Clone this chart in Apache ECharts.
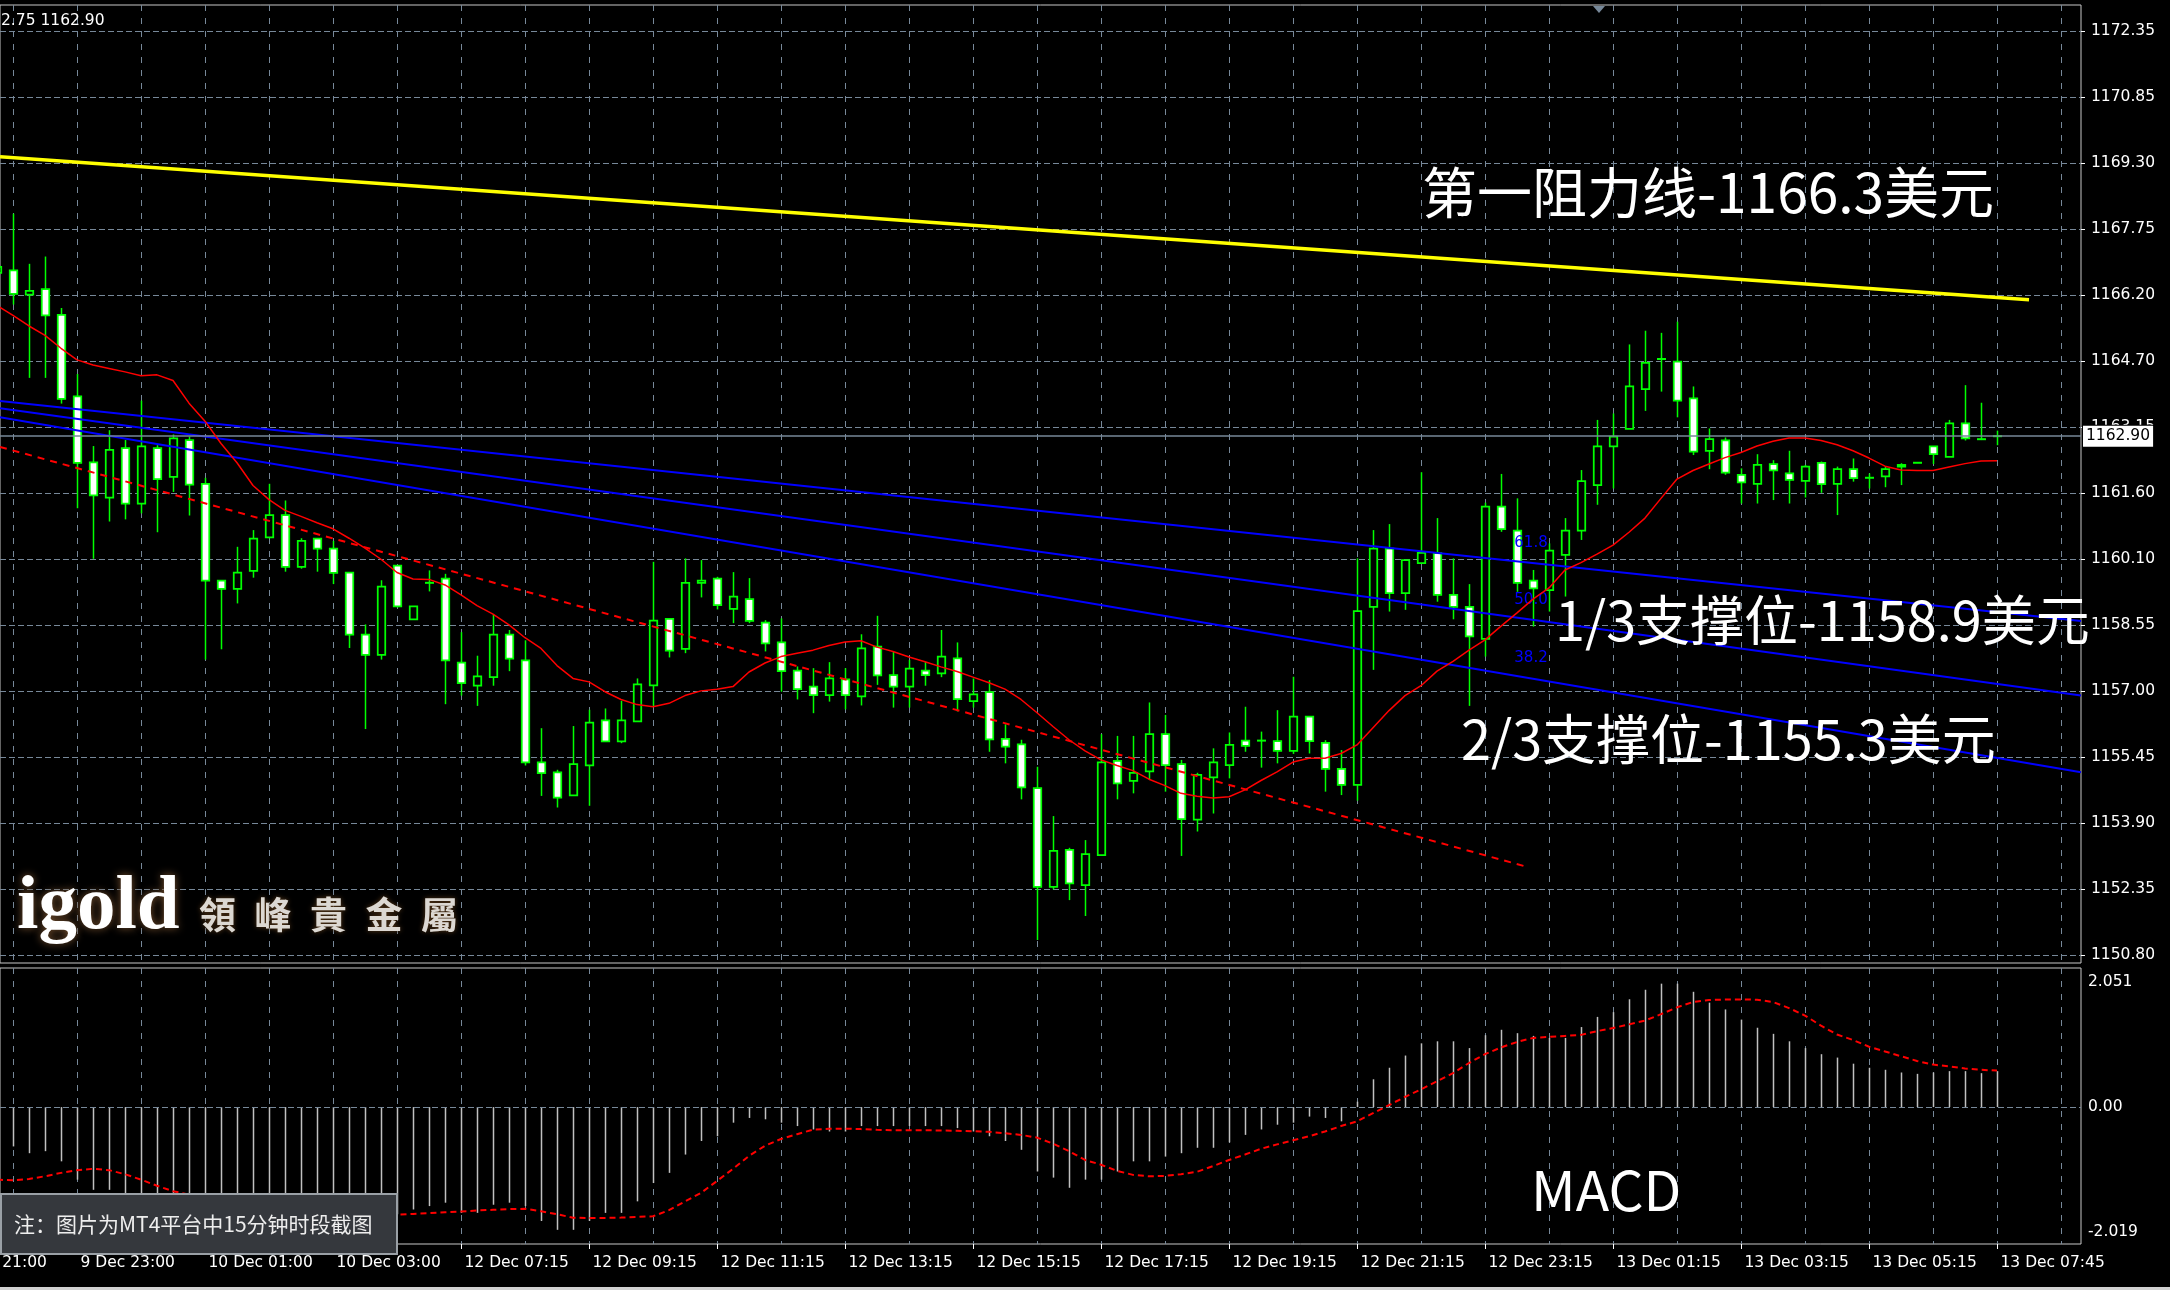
<!DOCTYPE html>
<html><head><meta charset="utf-8">
<script src="https://cdn.jsdelivr.net/npm/echarts@6/dist/echarts.min.js"></script>
<style>html,body{margin:0;padding:0;background:#000;}#c{width:2170px;height:1290px;}</style>
</head><body><div id="c"></div>
<script>
// ---------- data (15-minute bars, x axis value = bar index) ----------
const timeLabels = ['9 Dec 21:00','9 Dec 23:00','10 Dec 01:00','10 Dec 03:00','12 Dec 07:15','12 Dec 09:15','12 Dec 11:15','12 Dec 13:15','12 Dec 15:15','12 Dec 17:15','12 Dec 19:15','12 Dec 21:15','12 Dec 23:15','13 Dec 01:15','13 Dec 03:15','13 Dec 05:15','13 Dec 07:45'];
const timeLabelFirstBar = -3;   // bar index of the first (cut-off) time label, then every 8 bars
const priceLabels = ['1150.80','1152.35','1153.90','1155.45','1157.00','1158.55','1160.10','1161.60','1163.15','1164.70','1166.20','1167.75','1169.30','1170.85','1172.35'];

const opens = [1166.71,1166.77,1166.20,1166.33,1165.73,1163.83,1162.29,1161.47,1162.62,1161.33,1162.62,1161.95,1162.81,1161.79,1159.53,1159.34,1159.76,1160.54,1161.06,1159.85,1160.51,1160.28,1159.72,1158.27,1157.80,1159.88,1158.63,1159.48,1159.58,1157.62,1157.08,1157.28,1158.27,1157.67,1155.29,1155.06,1154.52,1155.22,1156.27,1155.78,1156.25,1157.09,1158.64,1157.94,1159.48,1159.58,1158.87,1159.10,1158.55,1158.09,1157.43,1157.06,1156.86,1157.23,1156.83,1157.99,1157.33,1157.06,1157.43,1157.37,1157.72,1156.72,1156.93,1155.84,1155.71,1154.69,1152.39,1153.25,1152.43,1153.13,1155.33,1154.86,1155.08,1155.95,1155.25,1153.96,1154.94,1155.23,1155.80,1155.79,1155.79,1155.56,1156.36,1155.75,1155.14,1154.77,1158.92,1160.28,1159.24,1159.94,1160.17,1159.20,1158.92,1158.17,1161.26,1160.70,1159.53,1159.31,1160.13,1160.70,1161.76,1162.66,1163.07,1164.00,1164.68,1164.64,1163.78,1162.56,1162.80,1162.00,1161.79,1162.25,1162.03,1161.86,1162.28,1161.79,1162.13,1161.93,1161.96,1162.19,1162.28,1162.66,1162.42,1163.20,1162.83,1162.87];
const closes = [1166.85,1166.22,1166.29,1165.72,1163.77,1162.28,1161.52,1162.58,1161.33,1162.66,1161.90,1162.85,1161.77,1159.53,1159.34,1159.72,1160.51,1161.06,1159.85,1160.46,1160.28,1159.71,1158.27,1157.80,1159.39,1158.93,1158.93,1159.48,1157.67,1157.14,1157.30,1158.27,1157.71,1155.29,1155.04,1154.47,1155.25,1156.22,1155.78,1156.27,1157.11,1158.60,1157.90,1159.48,1159.53,1158.96,1159.16,1158.59,1158.07,1157.42,1157.00,1156.86,1157.25,1156.86,1157.95,1157.32,1157.06,1157.48,1157.33,1157.76,1156.77,1156.88,1155.83,1155.66,1154.71,1152.39,1153.23,1152.47,1153.15,1155.29,1154.80,1155.05,1155.95,1155.23,1153.97,1155.00,1155.29,1155.70,1155.68,1155.80,1155.56,1156.36,1155.79,1155.14,1154.77,1158.82,1160.28,1159.24,1160.01,1160.18,1159.20,1158.92,1158.23,1161.26,1160.73,1159.48,1159.35,1160.23,1160.70,1161.85,1162.66,1162.89,1164.06,1164.61,1164.70,1163.73,1162.54,1162.83,1162.05,1161.82,1162.23,1162.10,1161.88,1162.19,1161.78,1162.13,1161.92,1161.93,1162.13,1162.23,1162.28,1162.48,1163.20,1162.85,1162.81,1162.90];
const lows = [1166.40,1165.97,1164.26,1164.26,1163.66,1161.22,1160.04,1160.91,1160.96,1161.10,1160.66,1161.60,1161.05,1157.69,1157.93,1159.00,1159.60,1160.52,1159.74,1159.81,1159.74,1159.45,1157.96,1156.07,1157.69,1158.91,1158.63,1159.28,1156.65,1156.85,1156.61,1157.08,1157.42,1155.22,1154.51,1154.24,1154.51,1154.28,1155.78,1155.74,1156.24,1156.59,1157.74,1157.84,1159.14,1158.86,1158.54,1158.54,1157.88,1156.94,1156.76,1156.44,1156.71,1156.53,1156.62,1157.10,1156.57,1156.57,1157.08,1157.28,1156.48,1156.57,1155.54,1155.27,1154.43,1151.15,1152.33,1152.08,1151.71,1153.11,1154.43,1154.57,1154.88,1154.61,1153.11,1153.68,1154.10,1154.92,1155.54,1155.17,1155.27,1155.49,1155.50,1154.61,1154.53,1154.40,1157.45,1158.81,1158.85,1159.93,1159.04,1158.63,1156.61,1157.76,1160.67,1159.27,1158.46,1158.81,1159.16,1160.48,1161.30,1161.68,1163.07,1163.49,1163.94,1163.34,1162.46,1162.13,1162.00,1161.33,1161.33,1161.41,1161.33,1161.47,1161.58,1161.06,1161.84,1161.68,1161.71,1161.76,1162.28,1162.25,1162.42,1162.80,1162.81,1162.69];
const highs = [1167.20,1168.09,1166.92,1167.09,1165.89,1164.35,1162.67,1163.04,1162.81,1163.73,1162.69,1162.94,1162.89,1161.93,1159.53,1160.32,1160.71,1161.79,1161.40,1160.52,1160.51,1160.46,1159.72,1158.51,1159.54,1159.88,1158.93,1159.77,1159.69,1158.33,1157.78,1158.75,1158.38,1158.14,1156.09,1155.12,1156.14,1156.52,1156.55,1156.73,1157.25,1159.97,1158.64,1160.05,1160.01,1159.62,1159.73,1159.59,1158.61,1158.65,1157.53,1157.49,1157.63,1157.49,1158.28,1158.71,1157.87,1157.68,1157.64,1158.38,1158.09,1157.25,1157.21,1156.18,1155.82,1155.19,1154.04,1153.30,1153.48,1155.95,1155.91,1155.91,1156.69,1156.40,1155.35,1155.05,1155.62,1155.99,1156.59,1156.01,1156.51,1157.29,1156.36,1155.81,1155.58,1160.05,1160.71,1160.85,1160.01,1162.06,1160.99,1160.05,1159.45,1161.35,1162.02,1161.45,1159.78,1160.40,1160.99,1162.11,1163.28,1163.43,1165.04,1165.36,1165.31,1165.57,1164.06,1163.08,1162.87,1162.15,1162.48,1162.34,1162.56,1162.23,1162.31,1162.19,1162.38,1162.03,1162.19,1162.27,1162.28,1162.67,1163.28,1164.09,1163.68,1163.03];

const maValues = [1165.95,1165.72,1165.47,1165.25,1164.95,1164.68,1164.56,1164.48,1164.40,1164.31,1164.33,1164.20,1163.67,1163.25,1162.73,1162.28,1161.75,1161.42,1161.17,1161.03,1160.88,1160.74,1160.52,1160.29,1160.03,1159.72,1159.57,1159.56,1159.43,1159.20,1158.95,1158.75,1158.50,1158.20,1157.95,1157.55,1157.25,1157.17,1156.94,1156.76,1156.64,1156.59,1156.67,1156.85,1156.96,1157.00,1157.06,1157.40,1157.61,1157.76,1157.84,1157.91,1158.02,1158.10,1158.13,1157.98,1157.88,1157.75,1157.64,1157.52,1157.41,1157.28,1157.15,1157.00,1156.76,1156.45,1156.13,1155.82,1155.56,1155.35,1155.22,1155.10,1154.90,1154.75,1154.57,1154.50,1154.46,1154.49,1154.65,1154.87,1155.07,1155.30,1155.39,1155.39,1155.50,1155.70,1156.10,1156.50,1156.85,1157.08,1157.42,1157.65,1157.91,1158.15,1158.47,1158.78,1159.10,1159.36,1159.78,1159.95,1160.15,1160.36,1160.66,1160.99,1161.45,1161.90,1162.10,1162.25,1162.40,1162.52,1162.67,1162.78,1162.86,1162.86,1162.80,1162.70,1162.56,1162.39,1162.20,1162.11,1162.10,1162.10,1162.18,1162.26,1162.32,1162.33];

const macdMain = [-0.55,-0.58,-0.68,-0.65,-0.80,-1.07,-1.22,-1.22,-1.30,-1.38,-1.45,-1.55,-1.60,-1.75,-1.85,-1.85,-1.80,-1.70,-1.65,-1.60,-1.55,-1.52,-1.58,-1.65,-1.66,-1.58,-1.51,-1.46,-1.41,-1.56,-1.56,-1.44,-1.41,-1.46,-1.68,-1.81,-1.81,-1.68,-1.56,-1.56,-1.39,-1.12,-0.97,-0.70,-0.50,-0.43,-0.23,-0.16,-0.18,-0.23,-0.28,-0.33,-0.36,-0.36,-0.28,-0.28,-0.28,-0.28,-0.28,-0.28,-0.31,-0.36,-0.43,-0.50,-0.63,-0.95,-1.04,-1.19,-1.07,-1.07,-0.95,-0.80,-0.80,-0.73,-0.68,-0.60,-0.60,-0.52,-0.41,-0.33,-0.26,-0.23,-0.14,-0.16,-0.21,0.08,0.41,0.58,0.76,0.94,0.97,0.97,0.87,1.06,1.14,1.09,1.05,1.02,1.02,1.18,1.33,1.40,1.59,1.73,1.82,1.82,1.70,1.54,1.44,1.29,1.17,1.08,0.97,0.87,0.78,0.73,0.64,0.58,0.55,0.51,0.49,0.51,0.53,0.53,0.50,0.53];
const macdSignal = [-1.07,-1.08,-1.06,-1.02,-0.97,-0.93,-0.91,-0.93,-0.99,-1.07,-1.16,-1.24,-1.29,-1.34,-1.40,-1.45,-1.49,-1.52,-1.54,-1.56,-1.57,-1.58,-1.585,-1.59,-1.59,-1.586,-1.575,-1.565,-1.55,-1.54,-1.525,-1.515,-1.505,-1.50,-1.535,-1.58,-1.632,-1.635,-1.635,-1.63,-1.62,-1.61,-1.52,-1.39,-1.266,-1.09,-0.91,-0.72,-0.57,-0.47,-0.40,-0.332,-0.32,-0.318,-0.325,-0.335,-0.342,-0.342,-0.342,-0.345,-0.35,-0.355,-0.365,-0.385,-0.41,-0.45,-0.54,-0.65,-0.78,-0.85,-0.94,-1.00,-1.02,-1.015,-0.99,-0.955,-0.87,-0.78,-0.70,-0.615,-0.55,-0.49,-0.43,-0.36,-0.28,-0.21,-0.09,0.03,0.15,0.26,0.38,0.50,0.65,0.78,0.88,0.96,1.02,1.035,1.05,1.065,1.12,1.165,1.22,1.275,1.37,1.47,1.55,1.58,1.586,1.586,1.584,1.55,1.46,1.35,1.20,1.07,0.99,0.89,0.82,0.75,0.68,0.627,0.60,0.57,0.55,0.538];
const macdMin = -2.019, macdMax = 2.051;

// drawn objects (trend lines / fan), as [bar index, price]
const resistanceLine = [[0.1875, 1169.42], [127, 1166.08]];
const downTrendLine = [[0.1875, 1162.65], [95.69, 1152.85]];
const fanLines = [
  {name: '61.8', pts: [[0.1875, 1163.72], [130.25, 1158.59]]},
  {name: '50.0', pts: [[0.1875, 1163.55], [130.25, 1156.85]]},
  {name: '38.2', pts: [[0.1875, 1163.34], [130.25, 1155.06]]}
];
const fanLabelAt = 95.875;

// ---------- build ----------
const X_MIN = 0.1875, X_MAX = 130.25;   // visible bar range (chart shifted, first bar cut)
const candleData = opens.map((o, i) => [i, o, closes[i], lows[i], highs[i]]);
const maData = maValues.map((v, i) => [i, v]);
const macdData = macdMain.map((v, i) => [i, v]);
const signalData = macdSignal.map((v, i) => [i, v]);
const gridBars = [];
for (let b = 1; b <= X_MAX; b += 4) gridBars.push([b]);
const labelData = timeLabels.map((t, k) => [timeLabelFirstBar + 8 * k, k]);
const yMin = +priceLabels[0], yMax = +priceLabels[priceLabels.length - 1];
const yInterval = (yMax - yMin) / (priceLabels.length - 1);
const lastClose = closes[closes.length - 1];

const GRID = '#778899', FG = '#ffffff', LIME = '#00ff00';
const AX_FONT = 'DejaVu Sans';
const CJK = '"Noto Sans CJK SC", "Noto Sans", sans-serif';

function renderCandle(params, api) {
  const x = api.value(0), o = api.value(1), c = api.value(2), l = api.value(3), h = api.value(4);
  const po = api.coord([x, o]), pc = api.coord([x, c]), pl = api.coord([x, l]), ph = api.coord([x, h]);
  const cx = Math.round(po[0]) + 0.5;
  const top = Math.min(po[1], pc[1]), bot = Math.max(po[1], pc[1]);
  const children = [{type: 'line', shape: {x1: cx, y1: ph[1], x2: cx, y2: pl[1]}, style: {stroke: LIME, lineWidth: 1.5}}];
  if (bot - top < 1.5) {
    children.push({type: 'line', shape: {x1: cx - 4.5, y1: top, x2: cx + 4.5, y2: top}, style: {stroke: LIME, lineWidth: 2}});
  } else {
    children.push({type: 'rect', shape: {x: cx - 3.75, y: top, width: 7.5, height: bot - top},
      style: {fill: c < o ? '#ffffff' : '#000000', stroke: LIME, lineWidth: 1.75}});
  }
  return {type: 'group', children};
}
function renderHist(params, api) {
  const x = api.value(0), v = api.value(1);
  const p0 = api.coord([x, 0]), p1 = api.coord([x, v]);
  const px = Math.round(p0[0]) + 0.5;
  return {type: 'line', shape: {x1: px, y1: p0[1], x2: px, y2: p1[1]}, style: {stroke: '#c0c0c0', lineWidth: 1.5}};
}
function renderVGrid(params, api) {
  const cs = params.coordSys;
  const x = Math.round(api.coord([api.value(0), 0])[0]) + 0.5;
  return {type: 'line', shape: {x1: x, y1: cs.y, x2: x, y2: cs.y + cs.height},
    style: {stroke: GRID, lineWidth: 1, lineDash: [6, 7]}};
}
function renderTimeLabel(params, api) {
  const cs = params.coordSys;
  const x = Math.round(api.coord([api.value(0), 0])[0]) + 0.5;
  const yb = cs.y + cs.height;
  return {type: 'group', children: [
    {type: 'line', shape: {x1: x, y1: yb, x2: x, y2: yb + 5}, style: {stroke: FG, lineWidth: 1}},
    {type: 'text', x: x + 3, y: yb + 11, style: {text: timeLabels[api.value(1)], fill: FG, font: '15.5px "DejaVu Sans"', align: 'left', verticalAlign: 'top'}}
  ]};
}

const fanSeries = fanLines.map(f => {
  const [a, b] = f.pts;
  const t = (fanLabelAt - a[0]) / (b[0] - a[0]);
  const yAt = a[1] + t * (b[1] - a[1]);
  return {
    type: 'line', name: f.name, xAxisIndex: 1, yAxisIndex: 1, data: f.pts, showSymbol: false, z: 4,
    lineStyle: {color: '#0000ff', width: 2}, silent: true,
    markPoint: {symbol: 'circle', symbolSize: 0, data: [{coord: [fanLabelAt, yAt]}],
      label: {show: true, formatter: f.name, color: '#0000ff', fontFamily: AX_FONT, fontSize: 15, offset: [0, -20]}}
  };
});

const xAxisBase = {type: 'value', min: X_MIN, max: X_MAX, show: false, splitLine: {show: false}};

const option = {
  backgroundColor: '#000000',
  animation: false,
  grid: [
    {left: 0, right: 89, top: 5, height: 958, show: true, borderColor: '#c8c8c8', borderWidth: 1, backgroundColor: 'transparent'},
    {left: 0, right: 89, top: 31, height: 924, show: false},
    {left: 0, right: 89, top: 968, height: 276, show: true, borderColor: '#c8c8c8', borderWidth: 1, backgroundColor: 'transparent'}
  ],
  xAxis: [
    Object.assign({gridIndex: 0}, xAxisBase),
    Object.assign({gridIndex: 1}, xAxisBase),
    Object.assign({gridIndex: 2}, xAxisBase)
  ],
  yAxis: [
    {gridIndex: 0, type: 'value', min: 0, max: 1, show: false, splitLine: {show: false}},
    {gridIndex: 1, type: 'value', position: 'right', min: yMin, max: yMax, interval: yInterval,
      axisLine: {show: false},
      axisTick: {show: true, inside: false, length: 4, lineStyle: {color: FG}},
      splitLine: {show: true, lineStyle: {color: GRID, type: [6, 3], width: 1}},
      axisLabel: {show: true, showMinLabel: true, showMaxLabel: true, color: FG, fontFamily: AX_FONT, fontSize: 15.5, margin: 10,
        formatter: v => priceLabels[Math.round((v - yMin) / yInterval)] || ''}},
    {gridIndex: 2, type: 'value', position: 'right', min: macdMin, max: macdMax, interval: -macdMin,
      axisLine: {show: false}, axisTick: {show: false}, splitLine: {show: false},
      axisLabel: {show: true, showMinLabel: true, showMaxLabel: true, color: FG, fontFamily: AX_FONT, fontSize: 15.5, margin: 7,
        formatter: v => {
          if (Math.abs(v - macdMax) < 1e-6) return '{t|' + macdMax.toFixed(3) + '}';
          if (Math.abs(v - macdMin) < 1e-6) return '{b|' + macdMin.toFixed(3) + '}';
          if (Math.abs(v) < 1e-6) return '0.00';
          return '';
        },
        rich: {
          t: {color: FG, fontFamily: AX_FONT, fontSize: 15.5, padding: [28, 0, 0, 0]},
          b: {color: FG, fontFamily: AX_FONT, fontSize: 15.5, padding: [0, 0, 24, 0]}
        }}}
  ],
  series: [
    {type: 'custom', name: 'vgrid-main', xAxisIndex: 0, yAxisIndex: 0, data: gridBars, renderItem: renderVGrid, z: 1, silent: true, encode: {x: 0}},
    {type: 'custom', name: 'vgrid-macd', xAxisIndex: 2, yAxisIndex: 2, data: gridBars, renderItem: renderVGrid, z: 1, silent: true, encode: {x: 0}},
    {type: 'custom', name: 'time-labels', xAxisIndex: 2, yAxisIndex: 2, data: labelData, renderItem: renderTimeLabel, z: 2, silent: true, encode: {x: 0}},
    {type: 'custom', name: 'GOLD M15', xAxisIndex: 1, yAxisIndex: 1, data: candleData, renderItem: renderCandle, z: 3,
      encode: {x: 0, y: [1, 2, 3, 4]},
      markLine: {silent: true, symbol: 'none', animation: false,
        lineStyle: {color: GRID, type: 'solid', width: 1.5},
        data: [{yAxis: lastClose}],
        label: {show: true, position: 'end', distance: 2, formatter: p => (+p.value).toFixed(2),
          backgroundColor: '#ffffff', color: '#000000', fontFamily: AX_FONT, fontSize: 15.5, padding: [4, 3, 1, 3],
          borderColor: '#000000', borderWidth: 1}}},
    {type: 'line', name: 'MA', xAxisIndex: 1, yAxisIndex: 1, data: maData, showSymbol: false, z: 5,
      lineStyle: {color: '#ff0000', width: 1.5}, silent: true},
    {type: 'line', name: 'trend', xAxisIndex: 1, yAxisIndex: 1, data: downTrendLine, showSymbol: false, z: 5,
      lineStyle: {color: '#ff0000', width: 2, type: [7, 6]}, silent: true},
    {type: 'line', name: 'resistance', xAxisIndex: 1, yAxisIndex: 1, data: resistanceLine, showSymbol: false, z: 5,
      lineStyle: {color: '#ffff00', width: 3.5}, silent: true},
    ...fanSeries,
    {type: 'custom', name: 'MACD', xAxisIndex: 2, yAxisIndex: 2, data: macdData, renderItem: renderHist, z: 3,
      encode: {x: 0, y: 1},
      markLine: {silent: true, symbol: 'none', animation: false, label: {show: false},
        lineStyle: {color: GRID, type: [6, 3], width: 1}, data: [{yAxis: 0}]}},
    {type: 'line', name: 'Signal', xAxisIndex: 2, yAxisIndex: 2, data: signalData, showSymbol: false, z: 4,
      lineStyle: {color: '#ff0000', width: 2, type: [6, 4]}, silent: true}
  ],
  graphic: [
    {type: 'text', x: 1, y: 21, z: 10, style: {text: '2.75 1162.90', fill: FG, font: '15.5px "DejaVu Sans"', align: 'left', verticalAlign: 'middle'}},
    {type: 'polygon', z: 10, shape: {points: [[1593, 6], [1605, 6], [1599, 13]]}, style: {fill: GRID}},
    {type: 'text', x: 1422, y: 192, z: 20, style: {text: '第一阻力线-1166.3美元', fill: '#ffffff', font: '55px ' + CJK, align: 'left', verticalAlign: 'middle'}},
    {type: 'text', x: 1555, y: 620, z: 20, style: {text: '1/3支撑位-1158.9美元', fill: '#ffffff', font: '54px ' + CJK, align: 'left', verticalAlign: 'middle'}},
    {type: 'text', x: 1461, y: 739, z: 20, style: {text: '2/3支撑位-1155.3美元', fill: '#ffffff', font: '54px ' + CJK, align: 'left', verticalAlign: 'middle'}},
    {type: 'text', x: 1531, y: 1190, z: 20, style: {text: 'MACD', fill: '#ffffff', font: '55px ' + CJK, align: 'left', verticalAlign: 'middle'}},
    {type: 'text', x: 17, y: 908, z: 20, style: {text: 'igold', fill: '#ffffff', font: 'bold 77px "Liberation Serif"', align: 'left', verticalAlign: 'middle',
      shadowBlur: 8, shadowColor: '#7a5330', textShadowBlur: 8, textShadowColor: '#7a5330'}},
    {type: 'text', x: 199, y: 915, z: 20, style: {text: '領\u2002峰\u2002貴\u2002金\u2002屬', fill: '#dcd8d2', font: 'bold 37px "Noto Sans CJK TC"', align: 'left', verticalAlign: 'middle',
      shadowBlur: 5, shadowColor: '#5a3a1a', textShadowBlur: 5, textShadowColor: '#5a3a1a'}},
    {type: 'rect', z: 20, shape: {x: 1, y: 1194, width: 396, height: 60}, style: {fill: '#35383d', stroke: '#9aa0a6', lineWidth: 2}},
    {type: 'text', x: 14, y: 1224, z: 21, style: {text: '注：图片为MT4平台中15分钟时段截图', fill: '#eeeeee', font: '21px ' + CJK, align: 'left', verticalAlign: 'middle'}},
    {type: 'rect', z: 20, shape: {x: 0, y: 1287, width: 2170, height: 3}, style: {fill: '#d0d0d0'}}
  ]
};
const chart = echarts.init(document.getElementById('c'), null, {renderer: 'canvas'});
chart.setOption(option);
</script></body></html>
